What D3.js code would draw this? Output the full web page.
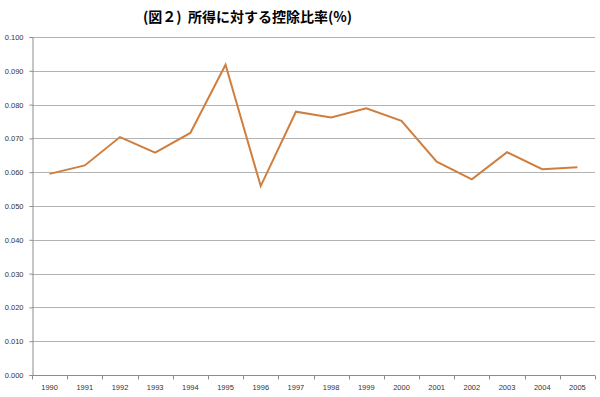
<!DOCTYPE html>
<html>
<head>
<meta charset="utf-8">
<script src="https://cdn.jsdelivr.net/npm/d3@7"></script>
<style>
  body { margin: 0; background: #fff; }
  svg { display: block; }
</style>
</head>
<body>
<svg id="chart" width="600" height="397"></svg>
<script>
// Values.
const years = ["1990", "1991", "1992", "1993", "1994", "1995", "1996", "1997",
               "1998", "1999", "2000", "2001", "2002", "2003", "2004", "2005"];
const ratios = [0.0595, 0.0620, 0.0704, 0.0658, 0.0716, 0.0918, 0.0559, 0.0779,
                0.0762, 0.0789, 0.0752, 0.0631, 0.0579, 0.0659, 0.0609, 0.0615];
const yTicks = [0, 0.01, 0.02, 0.03, 0.04, 0.05, 0.06, 0.07, 0.08, 0.09, 0.1];
const title = "(図２)  所得に対する控除比率(%)";

const svg = d3.select("#chart");
const margin = { left: 32, right: 5, top: 37, bottom: 22 };
const W = 600, H = 397;

const x = d3.scaleBand()
  .domain(years)
  .range([margin.left, W - margin.right]);

const y = d3.scaleLinear()
  .domain([0, 0.1])
  .range([H - margin.bottom, margin.top]);

// gridlines
svg.append("g")
  .selectAll("line")
  .data(yTicks.slice(1))
  .join("line")
  .attr("x1", margin.left)
  .attr("x2", W - margin.right)
  .attr("y1", d => Math.round(y(d)) + 0.5)
  .attr("y2", d => Math.round(y(d)) + 0.5)
  .attr("stroke", "#b3b3b3")
  .attr("stroke-width", 1);

// y axis
const yAxis = svg.append("g")
  .attr("transform", `translate(${margin.left + 0.5},0)`)
  .call(d3.axisLeft(y).tickValues(yTicks).tickFormat(d3.format(".3f")).tickSize(3).tickPadding(6));
yAxis.select(".domain").attr("stroke", "#8c8c8c");
yAxis.selectAll(".tick line").attr("stroke", "#8c8c8c");
yAxis.selectAll("text")
  .attr("font-family", "'Liberation Sans', Arial, sans-serif")
  .attr("font-size", 7.5)
  .attr("fill", "#333");

// x axis: ticks between categories like Excel
const xAxisG = svg.append("g")
  .attr("transform", `translate(0,${Math.round(y(0)) + 0.5})`);
xAxisG.append("line")
  .attr("x1", margin.left)
  .attr("x2", W - margin.right)
  .attr("stroke", "#8c8c8c");
xAxisG.selectAll("line.tk")
  .data(years.concat(["end"]))
  .join("line")
  .attr("class", "tk")
  .attr("x1", (d, i) => Math.round(margin.left + i * x.step()) + 0.5)
  .attr("x2", (d, i) => Math.round(margin.left + i * x.step()) + 0.5)
  .attr("y1", 0)
  .attr("y2", 4)
  .attr("stroke", "#8c8c8c");
xAxisG.selectAll("text")
  .data(years)
  .join("text")
  .attr("x", d => x(d) + x.bandwidth() / 2)
  .attr("y", 14)
  .attr("text-anchor", "middle")
  .attr("font-family", "'Liberation Sans', Arial, sans-serif")
  .attr("font-size", 7.5)
  .attr("fill", "#333")
  .text(d => d);

// the series line
const line = d3.line()
  .x((d, i) => x(years[i]) + x.bandwidth() / 2)
  .y(d => y(d));

svg.append("path")
  .datum(ratios)
  .attr("d", line)
  .attr("fill", "none")
  .attr("stroke", "#d07e3e")
  .attr("stroke-width", 2)
  .attr("stroke-linejoin", "miter");

// title
svg.append("text")
  .attr("x", 143)
  .attr("y", 22)
  .attr("font-family", "'Noto Sans CJK JP', sans-serif")
  .attr("font-weight", "bold")
  .attr("font-size", 14)
  .attr("fill", "#000")
  .attr("xml:space", "preserve")
  .style("white-space", "pre")
  .text(title);
</script>
</body>
</html>
